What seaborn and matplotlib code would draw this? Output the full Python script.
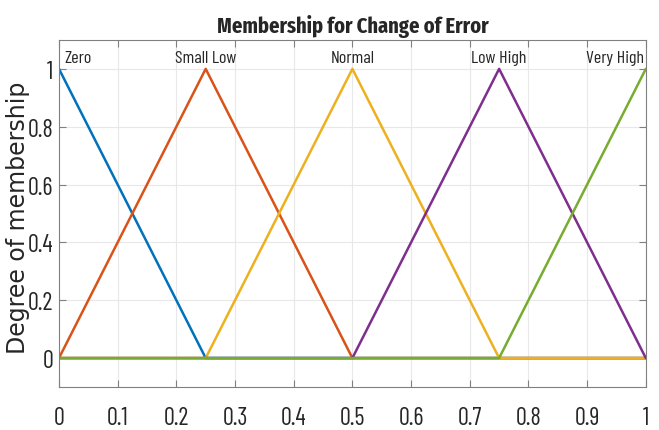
import numpy as np
import pandas as pd
import seaborn as sns
import matplotlib.pyplot as plt

# membership functions (triangular), breakpoints
names = ['Zero', 'Small Low', 'Normal', 'Low High', 'Very High']
x_pts = [
    [0, 0.25, 1],
    [0, 0.25, 0.5, 1],
    [0, 0.25, 0.5, 0.75, 1],
    [0, 0.5, 0.75, 1],
    [0, 0.75, 1],
]
y_pts = [
    [1, 0, 0],
    [0, 1, 0, 0],
    [0, 0, 1, 0, 0],
    [0, 0, 1, 0],
    [0, 0, 1],
]
peaks = [0, 0.25, 0.5, 0.75, 1]
colors = ['#0072BD', '#D95319', '#EDB120', '#7E2F8E', '#77AC30']
xtick_labels = ['0', '0.1', '0.2', '0.3', '0.4', '0.5', '0.6', '0.7', '0.8', '0.9', '1']
ytick_labels = ['0', '0.2', '0.4', '0.6', '0.8', '1']

rows = []
for n, xs, ys in zip(names, x_pts, y_pts):
    for a, b in zip(xs, ys):
        rows.append({'mf': n, 'x': a, 'y': b})
df = pd.DataFrame(rows)

sns.set_style('whitegrid')
narrow = ['Barlow Condensed', 'Roboto Condensed', 'Liberation Sans']
title_font = ['Fira Sans Extra Condensed', 'Barlow Condensed', 'Roboto Condensed']

fig = plt.figure(figsize=(6.59, 4.31), dpi=100)
ax = fig.add_axes([0.0895, 0.0998, 0.8905, 0.8052])

sns.lineplot(data=df, x='x', y='y', hue='mf', palette=colors, sort=False,
             estimator=None, linewidth=1.8, legend=False, ax=ax)

ax.set_xlim(0, 1)
ax.set_ylim(-0.1, 1.1)
ax.set_xticks(np.linspace(0, 1, 11))
ax.set_yticks(np.linspace(0, 1, 6))
ax.set_xticklabels(xtick_labels)
ax.set_yticklabels(ytick_labels)
for lab in ax.get_xticklabels() + ax.get_yticklabels():
    lab.set_family(narrow)
    lab.set_fontsize(17.5)
    lab.set_color('#262626')

ax.grid(True, color='#e8e8e8', linewidth=0.8)
for s in ax.spines.values():
    s.set_color('#808080')
    s.set_linewidth(0.8)
ax.tick_params(direction='in', length=5, color='#808080', top=True, right=True,
               bottom=True, left=True)
ax.tick_params(axis='x', pad=14)
ax.tick_params(axis='y', pad=4)

ax.set_xlabel('')
ax.set_ylabel('Degree of membership', fontsize=17, color='#262626',
              family=['DejaVu Sans'])
ax.yaxis.set_label_coords(-0.05, 0.49)
ax.set_title('Membership for Change of Error', fontsize=16, fontweight='bold',
             family=title_font, pad=6)

for n, p in zip(names, peaks):
    ha = 'center'
    xx = p
    if p == 0:
        ha, xx = 'left', 0.01
    elif p == 1:
        ha, xx = 'right', 0.997
    ax.text(xx, 1.015, n, ha=ha, va='bottom', fontsize=13, family=narrow, color='#262626')

fig.savefig('out.png', dpi=100)
